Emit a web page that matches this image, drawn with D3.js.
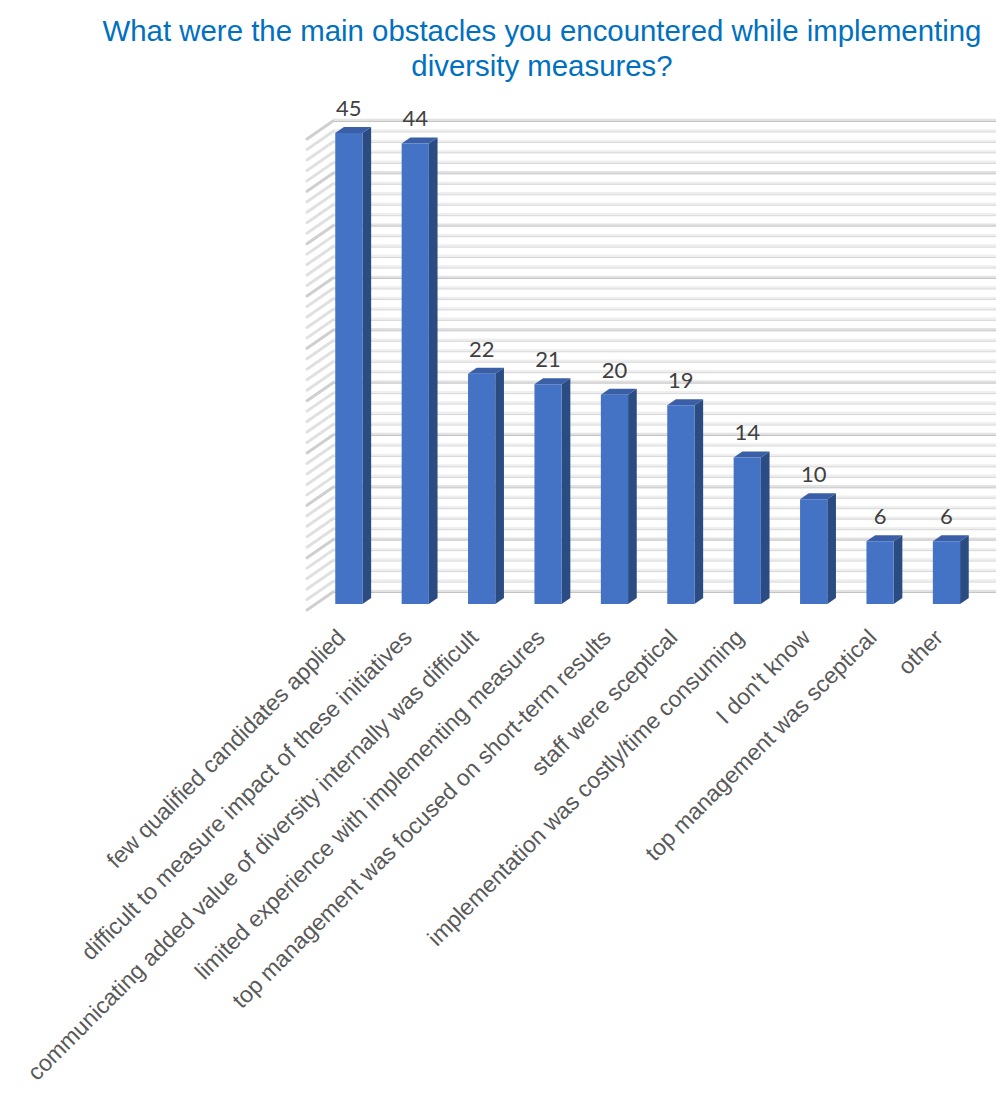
<!DOCTYPE html>
<html>
<head>
<meta charset="utf-8">
<script src="https://cdn.jsdelivr.net/npm/d3@7"></script>
<style>
  html, body { margin: 0; padding: 0; background: #fff; }
  svg { display: block; }
</style>
</head>
<body>
<svg id="chart" width="996" height="1094"></svg>
<script>
// Survey answers: main obstacles met while implementing diversity measures
const categories = [
  "few qualified candidates applied",
  "difficult to measure impact of these initiatives",
  "communicating added value of diversity internally was difficult",
  "limited experience with implementing measures",
  "top management was focused on short-term results",
  "staff were sceptical",
  "implementation was costly/time consuming",
  "I don't know",
  "top management was sceptical",
  "other"
];
const values = [45, 44, 22, 21, 20, 19, 14, 10, 6, 6];
const gridValues = d3.range(0, 46);          // one gridline per unit
const titleLines = [
  "What were the main obstacles you encountered while implementing",
  "diversity measures?"
];

const svg = d3.select("#chart");

// Oblique 3D projection: front plane of the plot plus a depth offset
const plotLeft = 307, plotRight = 971, floorFront = 610;
const depthX = 26, depthY = -18;
const x = d3.scaleBand().domain(categories).range([plotLeft, plotRight]);
const y = d3.scaleLinear().domain([0, 45]).range([floorFront, floorFront - 471]);
const proj = (px, v, z) => [px + z * depthX, y(v) + z * depthY];

// ---- Walls: gridlines on the back wall and the left side wall ----
const grid = svg.append("g").attr("class", "grid");
gridValues.forEach(v => {
  const major = v % 5 === 0;
  const [bx0, by] = proj(plotLeft, v, 1);
  const [fx, fy] = proj(plotLeft, v, 0);
  const bandCol = major ? "#e2e2e2" : "#efefef";
  const lineCol = major ? "#c4c4c4" : "#d6d6d6";
  // back wall line
  grid.append("line").attr("x1", bx0).attr("x2", 996).attr("y1", by - 1).attr("y2", by - 1)
    .attr("stroke", bandCol).attr("stroke-width", 2.5);
  grid.append("line").attr("x1", bx0).attr("x2", 996).attr("y1", by + 0.5).attr("y2", by + 0.5)
    .attr("stroke", lineCol).attr("stroke-width", 1);
  // side wall line
  grid.append("line").attr("x1", fx).attr("y1", fy).attr("x2", bx0).attr("y2", by)
    .attr("stroke", major ? "#cfcfcf" : "#e0e0e0").attr("stroke-width", 3)
    .attr("stroke-linecap", "round");
});

// ---- Bars ----
const barW = x.bandwidth() * 0.41;
const z0 = 1 / 3, z1 = 2 / 3;
const bars = svg.append("g").attr("class", "bars");
categories.forEach((c, i) => {
  const v = values[i];
  const xl = x(c) + (x.bandwidth() - barW) / 2;
  const xr = xl + barW;
  const pt = (px, vv, z) => proj(px, vv, z).join(",");
  const g = bars.append("g");
  // right side face
  g.append("polygon")
    .attr("points", [pt(xr, 0, z0), pt(xr, 0, z1), pt(xr, v, z1), pt(xr, v, z0)].join(" "))
    .attr("fill", "#2b4b83");
  // top face
  g.append("polygon")
    .attr("points", [pt(xl, v, z0), pt(xr, v, z0), pt(xr, v, z1), pt(xl, v, z1)].join(" "))
    .attr("fill", "#3a5fa6");
  // front face
  g.append("polygon")
    .attr("points", [pt(xl, 0, z0), pt(xr, 0, z0), pt(xr, v, z0), pt(xl, v, z0)].join(" "))
    .attr("fill", "#4472c4");
  // value label
  const [cx, ty] = proj((xl + xr) / 2, v, z0);
  g.append("text")
    .attr("x", cx).attr("y", ty - 17)
    .attr("text-anchor", "middle")
    .attr("font-family", "Lato, 'Open Sans', sans-serif")
    .attr("font-size", 22)
    .attr("fill", "#404040")
    .text(v);
});

// ---- Category labels, rotated ----
const labels = svg.append("g").attr("class", "cat-labels");
categories.forEach(c => {
  const cx = x(c) + x.bandwidth() / 2 + depthX * z0 - 2;
  const ly = 639;
  labels.append("text")
    .attr("transform", `translate(${cx},${ly}) rotate(-45)`)
    .attr("text-anchor", "end")
    .attr("font-family", "'Liberation Sans', Arial, sans-serif")
    .attr("font-size", 23)
    .attr("fill", "#595959")
    .text(c);
});

// ---- Title ----
const title = svg.append("g").attr("class", "title");
titleLines.forEach((t, i) => {
  title.append("text")
    .attr("x", 542).attr("y", 41 + i * 35)
    .attr("text-anchor", "middle")
    .attr("font-family", "'Liberation Sans', Arial, sans-serif")
    .attr("font-size", 29.4)
    .attr("fill", "#0070c0")
    .text(t);
});
</script>
</body>
</html>
